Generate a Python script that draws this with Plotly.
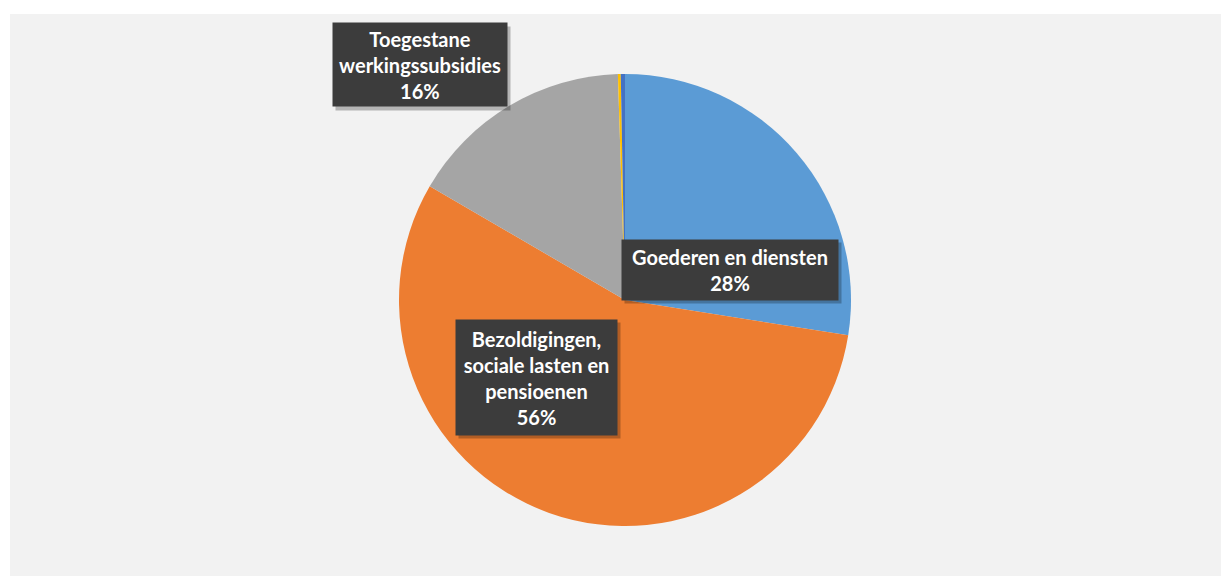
import plotly.graph_objects as go

# Data
categories = ["Goederen en diensten", "Bezoldigingen,<br>sociale lasten en<br>pensioenen",
              "Toegestane<br>werkingssubsidies", "Overige 1", "Overige 2"]
values = [27.5, 55.9, 16.1, 0.2, 0.3]
colors = ["#5B9BD5", "#ED7D31", "#A5A5A5", "#FFC000", "#4472C4"]

OFF = 8  # browser body margin
W, H = 1229 - OFF, 576 - OFF
ML, MR, MT, MB = 10 - OFF, 0, 14 - OFF, 0
PW, PH = W - ML - MR, H - MT - MB

def px(x):
    return (x - OFF - ML) / PW

def py(y):
    return 1 - (y - OFF - MT) / PH

cx, cy, r = 625, 300, 226

fig = go.Figure()
fig.add_trace(go.Pie(
    labels=categories, values=values, sort=False, direction="clockwise", rotation=0,
    marker=dict(colors=colors, line=dict(width=0)),
    textinfo="none", hoverinfo="label+percent", showlegend=False,
    domain=dict(x=[px(cx - r), px(cx + r)], y=[py(cy + r), py(cy - r)]),
))

total = sum(values)
# label box centers (pixels) and sizes
boxes = {
    0: (730, 270, 216, 60),
    1: (536, 377, 161, 115),
    2: (420, 65, 174, 83),
}
for i, (bx, by, bw, bh) in boxes.items():
    txt = f"<b>{categories[i]}<br>{values[i] / total * 100:.0f}%</b>"
    fig.add_annotation(x=px(bx + 3), y=py(by + 3), xref="paper", yref="paper",
                       xanchor="center", yanchor="middle",
                       text=" ", showarrow=False, width=bw, height=bh,
                       bgcolor="rgba(0,0,0,0.25)", borderpad=0)
    fig.add_annotation(x=px(bx), y=py(by), xref="paper", yref="paper",
                       xanchor="center", yanchor="middle",
                       text=txt, showarrow=False, width=bw, height=bh,
                       bgcolor="#3C3C3C", borderpad=0, align="center",
                       font=dict(family="Lato", size=20, color="white"))

fig.add_shape(type="rect", xref="paper", yref="paper", x0=0, x1=1, y0=0, y1=1,
              fillcolor="#F2F2F2", line=dict(width=0), layer="below")

fig.update_layout(
    width=W, height=H, margin=dict(l=ML, r=MR, t=MT, b=MB),
    paper_bgcolor="white", plot_bgcolor="#F2F2F2",
)
fig.write_html("out.html")
